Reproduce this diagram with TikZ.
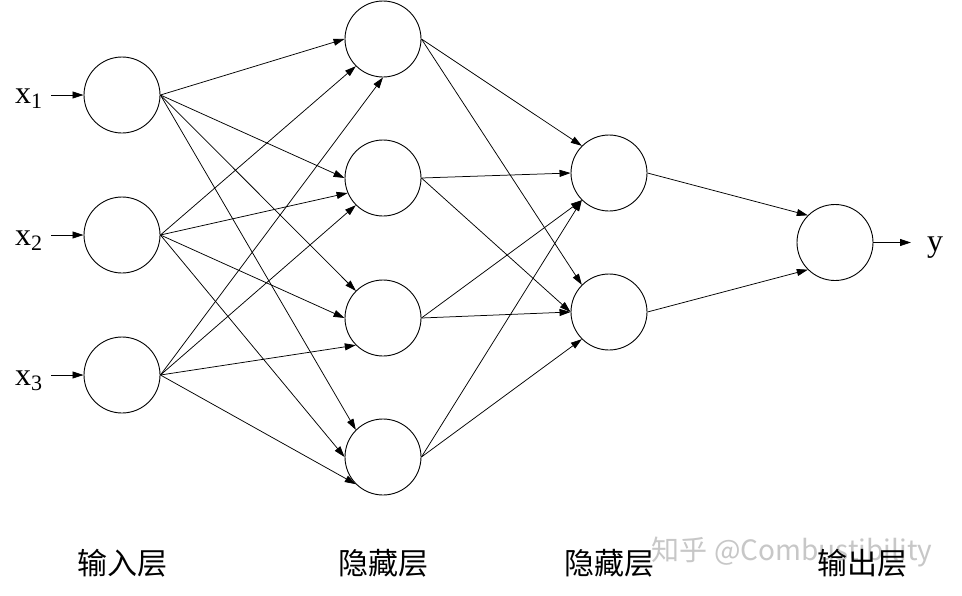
\documentclass[tikz,border=0pt]{standalone}
\usepackage{fontspec}
\setmainfont{Liberation Serif}
\newfontfamily\cjk{Noto Sans CJK SC}
\usetikzlibrary{arrows.meta}
\begin{document}
\begin{tikzpicture}[x=1pt,y=-1pt,
  neuron/.style={circle,draw,line width=0.9pt,minimum size=76pt,inner sep=0pt},
  link/.style={line width=0.75pt,-{Triangle[length=11pt,width=7pt]}},
  layerlabel/.style={font=\cjk\fontsize{30}{30}\selectfont,inner sep=0pt},
  varlabel/.style={font=\fontsize{32}{32}\selectfont,inner sep=0pt,anchor=base west},
  wmark/.style={font=\cjk\fontsize{28}{28}\selectfont,inner sep=0pt,text=black!22}]
\useasboundingbox (0,0) rectangle (962,595);
\fill[white] (0,0) rectangle (962,595);

% input layer
\node[neuron] (i1) at (122,95) {};
\node[neuron] (i2) at (122,235) {};
\node[neuron] (i3) at (122,375) {};
% hidden layer 1
\node[neuron] (h1) at (383,39) {};
\node[neuron] (h2) at (383,178) {};
\node[neuron] (h3) at (383,318) {};
\node[neuron] (h4) at (383,457) {};
% hidden layer 2
\node[neuron] (g1) at (609,173) {};
\node[neuron] (g2) at (609,312) {};
% output
\node[neuron] (o) at (835,242.5) {};

% input labels and arrows
\node[varlabel] (lx1) at (15,103) {x\raisebox{-5pt}{\fontsize{22}{22}\selectfont 1}};
\node[varlabel] (lx2) at (15,245) {x\raisebox{-5pt}{\fontsize{22}{22}\selectfont 2}};
\node[varlabel] (lx3) at (15,385) {x\raisebox{-5pt}{\fontsize{22}{22}\selectfont 3}};
\coordinate (s1) at (51,95);
\coordinate (s2) at (51,235);
\coordinate (s3) at (51,375);
\draw[link] (s1) -- (i1.west);
\draw[link] (s2) -- (i2.west);
\draw[link] (s3) -- (i3.west);

% input -> hidden 1
\draw[link] (i1.east) -- (h1.west);
\draw[link] (i1.east) -- (h2.west);
\draw[link] (i1.east) -- (h3.north west);
\draw[link] (i1.east) -- (h4.north west);
\draw[link] (i2.east) -- (h1.south west);
\draw[link] (i2.east) -- (h2.203);
\draw[link] (i2.east) -- (h3.west);
\draw[link] (i2.east) -- (h4.west);
\draw[link] (i3.east) -- (h1.south);
\draw[link] (i3.east) -- (h2.south west);
\draw[link] (i3.east) -- (h3.south west);
\draw[link] (i3.east) -- (h4.south west);

% hidden 1 -> hidden 2
\draw[link] (h1.east) -- (g1.north west);
\draw[link] (h1.east) -- (g2.north west);
\draw[link] (h2.east) -- (g1.west);
\draw[link] (h2.east) -- (g2.west);
\draw[link] (h3.east) -- (g1.south west);
\draw[link] (h3.east) -- (g2.west);
\draw[link] (h4.east) -- (g1.south west);
\draw[link] (h4.east) -- (g2.south west);

% hidden 2 -> output
\draw[link] (g1.east) -- (o.north west);
\draw[link] (g2.east) -- (o.south west);
\coordinate (yend) at (911,242.5);
\draw[link] (o.east) -- (yend);
\node[varlabel] (ly) at (927,251) {y};

% watermark
\node[wmark] (wm) at (792,552) {知乎 @Combustibility};

% layer labels
\node[layerlabel] (t1) at (122,563) {输入层};
\node[layerlabel] (t2) at (383,563) {隐藏层};
\node[layerlabel] (t3) at (609,563) {隐藏层};
\node[layerlabel] (t4) at (862,563) {输出层};
\end{tikzpicture}
\end{document}
